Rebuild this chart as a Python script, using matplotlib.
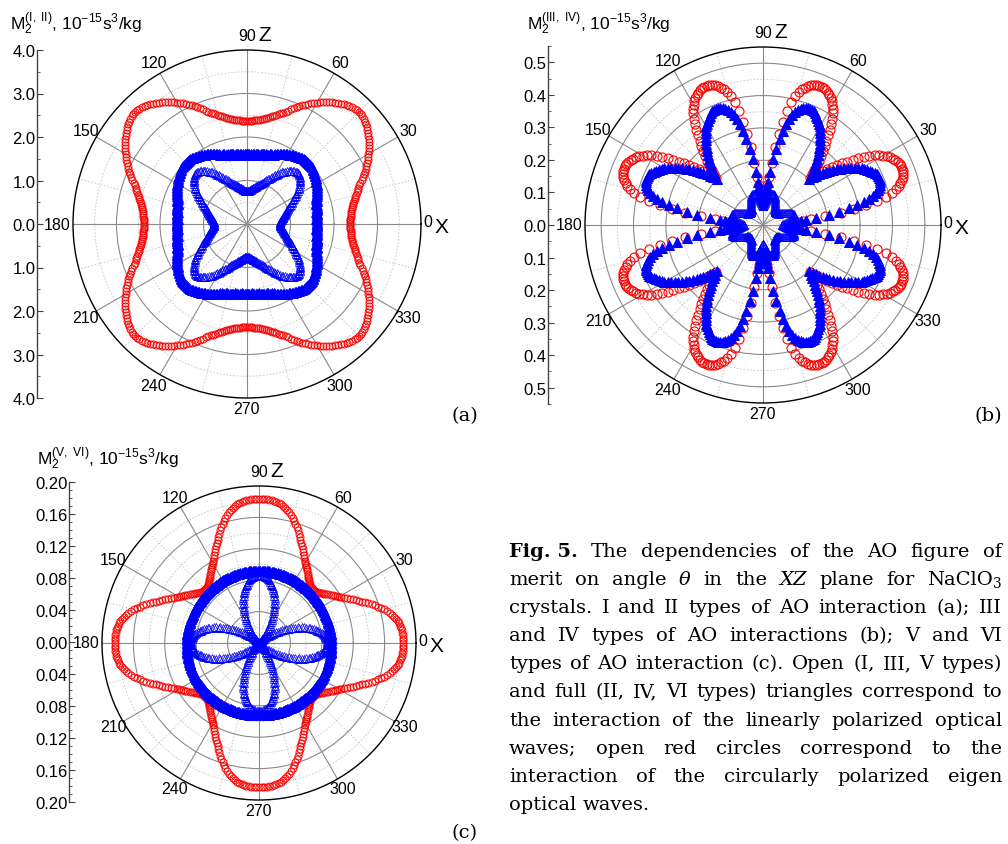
import numpy as np
import matplotlib
matplotlib.use('Agg')
import matplotlib.pyplot as plt

plt.rcParams['font.family'] = 'Liberation Sans'
plt.rcParams['mathtext.fontset'] = 'custom'
plt.rcParams['mathtext.rm'] = 'Liberation Sans'
plt.rcParams['mathtext.it'] = 'Liberation Sans:italic'

W, H = 1008, 845

# figure of merit vs angle, 0..45 deg in 1 deg steps (the curves are
# mirror symmetric about 0 and 45 deg, so one octant gives the full turn)
a_circ = [2.37, 2.37, 2.38, 2.38, 2.39, 2.40, 2.41, 2.42, 2.44, 2.45,
          2.47, 2.49, 2.51, 2.54, 2.57, 2.60, 2.63, 2.66, 2.69, 2.72,
          2.77, 2.82, 2.87, 2.92, 2.96, 3.01, 3.05, 3.10, 3.14, 3.18,
          3.22, 3.26, 3.30, 3.34, 3.38, 3.42, 3.45, 3.48, 3.51, 3.54,
          3.57, 3.59, 3.61, 3.63, 3.64, 3.65]
a_type2 = [1.60, 1.60, 1.60, 1.60, 1.60, 1.61, 1.61, 1.61, 1.62, 1.62,
           1.62, 1.63, 1.64, 1.64, 1.65, 1.66, 1.66, 1.67, 1.68, 1.69,
           1.70, 1.71, 1.73, 1.74, 1.75, 1.77, 1.78, 1.80, 1.81, 1.83,
           1.85, 1.86, 1.88, 1.89, 1.91, 1.92, 1.93, 1.94, 1.95, 1.96,
           1.97, 1.98, 1.98, 1.99, 1.99, 1.99]
a_type1 = [0.75, 0.75, 0.76, 0.76, 0.77, 0.78, 0.79, 0.80, 0.81, 0.83,
           0.84, 0.85, 0.87, 0.88, 0.90, 0.91, 0.93, 0.94, 0.96, 0.98,
           1.00, 1.02, 1.04, 1.07, 1.10, 1.13, 1.16, 1.19, 1.22, 1.26,
           1.29, 1.32, 1.36, 1.39, 1.43, 1.46, 1.49, 1.52, 1.55, 1.57,
           1.59, 1.61, 1.63, 1.64, 1.65, 1.66]

b_circ = [.085, .088, .092, .097, .104, .113, .125, .150, .195, .245,
          .285, .325, .360, .390, .410, .425, .436, .444, .451, .456,
          .460, .462, .463, .463, .462, .459, .455, .450, .445, .437,
          .428, .418, .407, .392, .376, .359, .342, .325, .309, .293,
          .278, .263, .248, .233, .218, .205]
b_type4 = [.082, .085, .088, .093, .099, .107, .118, .135, .165, .205,
           .240, .270, .297, .320, .338, .352, .363, .371, .377, .381,
           .384, .386, .387, .387, .385, .381, .376, .370, .364, .358,
           .352, .343, .334, .325, .315, .305, .295, .285, .275, .264,
           .254, .244, .234, .224, .213, .203]
b_type3 = [.058, .060, .062, .065, .068, .071, .074, .078, .081, .084,
           .087, .090, .092, .094, .096, .098, .099, .100, .100, .100,
           .099, .098, .096, .094, .092, .089, .086, .083, .080, .077,
           .074, .071, .068, .066, .064, .062, .060, .059, .058, .057,
           .056, .056, .055, .055, .055, .055]

c_circ = [.184, .184, .184, .184, .183, .183, .182, .181, .180, .179,
          .177, .175, .173, .171, .168, .165, .162, .159, .156, .152,
          .148, .145, .141, .138, .135, .132, .129, .126, .123, .120,
          .118, .116, .114, .112, .110, .108, .106, .104, .103, .101,
          .100, .099, .098, .098, .097, .097]
c_type6 = [.092] * 46
c_type5 = [.087, .087, .087, .086, .086, .085, .084, .083, .082, .081,
           .079, .077, .076, .074, .072, .070, .068, .066, .063, .061,
           .058, .055, .053, .050, .047, .045, .042, .039, .036, .034,
           .031, .028, .026, .023, .021, .018, .016, .014, .012, .010,
           .008, .006, .005, .003, .001, .000]

deg = np.arange(0, 360)
t = deg % 90
fold = np.where(t > 45, 90 - t, t)
th = np.deg2rad(deg)


def full(octant):
    return np.asarray(octant)[fold]


fig = plt.figure(figsize=(W / 100, H / 100), dpi=100)
fig.patch.set_facecolor('white')


def px_rect(x0, y0, w, h):
    return [x0 / W, 1 - (y0 + h) / H, w / W, h / H]


def polar_panel(cx, cy, R, rmax, rsolid, rdash):
    ax = fig.add_axes(px_rect(cx - R, cy - R, 2 * R, 2 * R), projection='polar')
    ax.set_ylim(0, rmax)
    ax.set_yticks(rsolid)
    ax.set_yticklabels([])
    ax.set_xticks(np.deg2rad(np.arange(0, 360, 30)))
    ax.set_xticklabels([])
    ax.tick_params(length=0)
    ax.grid(True, color='#8a8a8a', lw=0.8, ls='-')
    ax.spines['polar'].set_color('black')
    ax.spines['polar'].set_linewidth(1.0)
    ring = np.linspace(0, 2 * np.pi, 400)
    for r in rdash:
        ax.plot(ring, np.full_like(ring, r), ls=(0, (2, 2)), color='#c4c4c4',
                lw=0.6, zorder=1)
    for a in range(15, 360, 30):
        ax.plot([np.deg2rad(a)] * 2, [0, rmax], ls=(0, (2, 2)),
                color='#c4c4c4', lw=0.6, zorder=1)
    # angle labels
    for a in range(30, 360, 30):
        if a in (90, 180, 270):
            continue
        ax.text(np.deg2rad(a), rmax * 1.07, str(a), ha='center', va='center',
                fontsize=11.5)
    ax.annotate('0', xy=(0, rmax), xytext=(1.5, 1.5), textcoords='offset points',
                ha='left', va='center', fontsize=11.5)
    ax.annotate('X', xy=(0, rmax), xytext=(10, -2), textcoords='offset points',
                ha='left', va='center', fontsize=15)
    ax.annotate('180', xy=(np.pi, rmax), xytext=(-1.5, 0), textcoords='offset points',
                ha='right', va='center', fontsize=11.5)
    ax.annotate('90', xy=(np.pi / 2, rmax), xytext=(0, 5), textcoords='offset points',
                ha='center', va='bottom', fontsize=11.5)
    ax.annotate('Z', xy=(np.pi / 2, rmax), xytext=(8, 4), textcoords='offset points',
                ha='left', va='bottom', fontsize=15)
    ax.annotate('270', xy=(3 * np.pi / 2, rmax), xytext=(0, -2), textcoords='offset points',
                ha='center', va='top', fontsize=11.5)
    return ax


def side_axis(x, cy, half, lim, major, minor, fmt):
    ax = fig.add_axes(px_rect(x, cy - half, 0.5, 2 * half))
    ax.set_ylim(-lim, lim)
    ax.patch.set_visible(False)
    for s in ('top', 'right', 'bottom'):
        ax.spines[s].set_visible(False)
    ax.spines['left'].set_color('#444444')
    ax.spines['left'].set_linewidth(1.0)
    ax.set_xticks([])
    ax.set_yticks(major)
    ax.set_yticklabels([fmt % abs(v) for v in major])
    ax.set_yticks(minor, minor=True)
    ax.tick_params(axis='y', which='major', direction='in', length=4, width=0.8,
                   color='#444444', labelsize=12, pad=1)
    ax.tick_params(axis='y', which='minor', direction='in', length=2, width=0.6,
                   color='#444444')
    return ax


circ_kw = dict(ls='none', marker='o', mfc='none', mec='red')
open_kw = dict(ls='none', marker='^', mfc='none', mec='blue')
full_kw = dict(ls='none', marker='^', mfc='blue', mec='blue')

# (a) types I and II
axa = polar_panel(247, 225, 174, 4.0, [1, 2, 3], [0.5, 1.5, 2.5, 3.5])
ring = np.linspace(0, 2 * np.pi, 400)
axa.fill_between(ring, 0, 0.48, color='white', zorder=1.5)
axa.plot(th, full(a_circ), ms=5.0, mew=0.7, zorder=3, **circ_kw)
axa.plot(th, full(a_type2), ms=6.5, mew=0.6, zorder=4, **full_kw)
axa.plot(th, full(a_type1), ms=6.0, mew=0.5, zorder=4, **open_kw)
side_axis(37, 225, 174, 4.0, np.arange(-4, 4.1, 1.0), np.arange(-3.5, 4, 1.0), '%.1f')
fig.text(10 / W, 1 - 30 / H, r'M$_2^{(\mathrm{I,\ II})}$, 10$^{-15}$s$^3$/kg',
         fontsize=12.5, va='baseline')
fig.text(465 / W, 1 - 421 / H, '(a)', family='DejaVu Serif', fontsize=14,
         ha='center', va='baseline')

# (b) types III and IV
axb = polar_panel(763, 226, 178, 0.55, [0.1, 0.2, 0.3, 0.4, 0.5],
                  [0.05, 0.15, 0.25, 0.35, 0.45])
axb.plot(th, full(b_circ), ms=6.5, mew=0.8, zorder=3, **circ_kw)
axb.plot(th, full(b_type4), ms=6.5, mew=0.6, zorder=4, **full_kw)
axb.plot(th, full(b_type3), ms=6.0, mew=0.5, zorder=4, **open_kw)
side_axis(548, 226, 179, 0.55, np.round(np.arange(-0.5, 0.51, 0.1), 2),
          np.round(np.arange(-0.55, 0.56, 0.05), 3), '%.1f')
fig.text(527 / W, 1 - 30 / H, r'M$_2^{(\mathrm{III,\ IV})}$, 10$^{-15}$s$^3$/kg',
         fontsize=12.5, va='baseline')
fig.text(988 / W, 1 - 421 / H, '(b)', family='DejaVu Serif', fontsize=14,
         ha='center', va='baseline')

# (c) types V and VI
axc = polar_panel(259, 644, 157, 0.2, [0.04, 0.08, 0.12, 0.16],
                  [0.02, 0.06, 0.10, 0.14, 0.18])
axc.plot(th, full(c_circ), ms=5.0, mew=0.7, zorder=3, **circ_kw)
axc.plot(th, full(c_type6), ms=7.0, mew=0.6, zorder=4, **full_kw)
axc.plot(th, full(c_type5), ms=6.0, mew=0.5, zorder=4, **open_kw)
side_axis(69, 643, 160, 0.2, np.round(np.arange(-0.2, 0.201, 0.04), 2),
          np.round(np.arange(-0.2, 0.201, 0.01), 2), '%.2f')
fig.text(37 / W, 1 - 465 / H, r'M$_2^{(\mathrm{V,\ VI})}$, 10$^{-15}$s$^3$/kg',
         fontsize=12.5, va='baseline')
fig.text(465 / W, 1 - 838 / H, '(c)', family='DejaVu Serif', fontsize=14,
         ha='center', va='baseline')

# justified caption, set word by word
caption = [
    'Fig.~5. The dependencies of the AO figure of',
    'merit on angle θ in the XZ plane for NaClO3',
    'crystals. I and II types of AO interaction (a); III',
    'and IV types of AO interactions (b); V and VI',
    'types of AO interaction (c). Open (I, III, V types)',
    'and full (II, IV, VI types) triangles correspond to',
    'the interaction of the linearly polarized optical',
    'waves; open red circles correspond to the',
    'interaction of the circularly polarized eigen',
    'optical waves.',
]
cap_size = 14
cap_x0, cap_x1 = 509, 1002
cap_y0, cap_dy = 557, 28.1

renderer = fig.canvas.get_renderer()


def runs_of(word):
    if word.startswith('Fig.'):
        return [(word.replace('~', ' '), dict(weight='bold'))]
    if word in ('θ', 'XZ'):
        return [(word, dict(style='italic'))]
    if word == 'NaClO3':
        return [('NaClO', {}), ('3', dict(size=cap_size * 0.7, sub=True))]
    return [(word, {})]


def put_run(x, y, s, kw):
    kw = dict(kw)
    sub = kw.pop('sub', False)
    size = kw.pop('size', cap_size)
    yy = y + (3 if sub else 0)
    txt = fig.text(x / W, 1 - yy / H, s, family='DejaVu Serif', fontsize=size,
                   va='baseline', ha='left', **kw)
    return txt.get_window_extent(renderer).width


space_w = fig.text(0, 0, 'a a', family='DejaVu Serif', fontsize=cap_size)
sw = space_w.get_window_extent(renderer).width
space_w.set_text('aa')
sw -= space_w.get_window_extent(renderer).width
space_w.remove()

for i, line in enumerate(caption):
    y = cap_y0 + i * cap_dy
    words = line.split(' ')
    widths = []
    for w in words:
        total = 0
        for s, kw in runs_of(w):
            kw = dict(kw)
            kw.pop('sub', None)
            size = kw.pop('size', cap_size)
            tmp = fig.text(0, 0, s, family='DejaVu Serif', fontsize=size, **kw)
            total += tmp.get_window_extent(renderer).width
            tmp.remove()
        widths.append(total)
    if i < len(caption) - 1:
        gap = (cap_x1 - cap_x0 - sum(widths)) / (len(words) - 1)
    else:
        gap = sw
    x = cap_x0
    for w, wd in zip(words, widths):
        xx = x
        for s, kw in runs_of(w):
            xx += put_run(xx, y, s, kw)
        x += wd + gap

fig.savefig('out.png', dpi=100)
